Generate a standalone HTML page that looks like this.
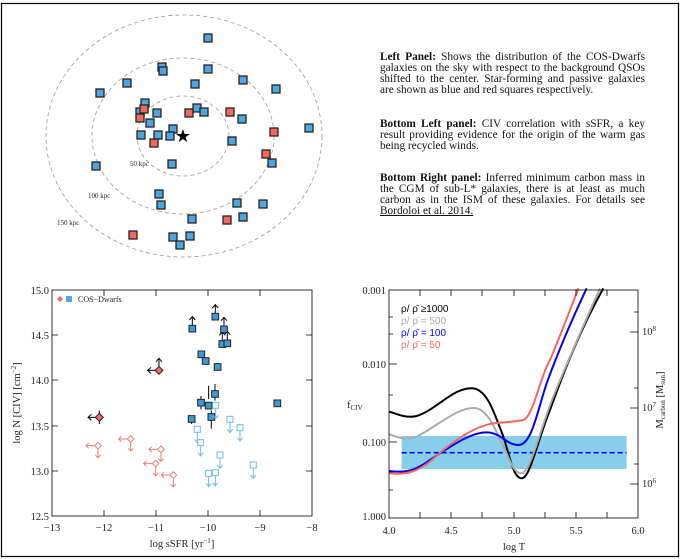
<!DOCTYPE html>
<html><head><meta charset="utf-8"><style>
body{margin:0;background:#fff;width:680px;height:559px;overflow:hidden;position:relative;font-family:"Liberation Serif",serif}
.t{position:absolute;left:380px;width:265px;font-size:11.3px;line-height:10.9px;color:#111}
.t div{text-align:justify;text-align-last:justify;white-space:nowrap}
.t div.l{text-align-last:left}
</style></head><body>
<svg width="680" height="559" style="position:absolute;left:0;top:0" font-family="Liberation Serif, serif">
<rect x="1.5" y="3.5" width="677" height="553" fill="none" stroke="#000" stroke-width="1.2"/>
<g fill="none" stroke="#999" stroke-width="0.8" stroke-dasharray="4,3">
<ellipse cx="183" cy="136" rx="46" ry="40"/>
<ellipse cx="183" cy="136" rx="91" ry="78"/>
<ellipse cx="184" cy="136" rx="138" ry="121"/>
</g>
<g font-size="7" fill="#222"><text x="130" y="166">50 kpc</text><text x="88" y="198">100 kpc</text><text x="57" y="225">150 kpc</text></g>
<g stroke="#222" stroke-width="1.3" fill="#4da6e0">
<rect x="204" y="34" width="8" height="8"/><rect x="158" y="63" width="8" height="8"/><rect x="159" y="67" width="8" height="8"/><rect x="204" y="65" width="8" height="8"/><rect x="123" y="79" width="8" height="8"/><rect x="191" y="80" width="8" height="8"/><rect x="239" y="76" width="8" height="8"/><rect x="272" y="85" width="8" height="8"/><rect x="96" y="89" width="8" height="8"/><rect x="141" y="99" width="8" height="8"/><rect x="136" y="108" width="8" height="8"/><rect x="153" y="109" width="8" height="8"/><rect x="193" y="104" width="8" height="8"/><rect x="200" y="108" width="8" height="8"/><rect x="238" y="115" width="8" height="8"/><rect x="146" y="119" width="8" height="8"/><rect x="169" y="125" width="8" height="8"/><rect x="166" y="132" width="8" height="8"/><rect x="137" y="131" width="8" height="8"/><rect x="154" y="131" width="8" height="8"/><rect x="305" y="124" width="8" height="8"/><rect x="228" y="137" width="8" height="8"/><rect x="168" y="160" width="8" height="8"/><rect x="92" y="162" width="8" height="8"/><rect x="268" y="159" width="8" height="8"/><rect x="155" y="190" width="8" height="8"/><rect x="157" y="201" width="8" height="8"/><rect x="233" y="199" width="8" height="8"/><rect x="259" y="200" width="8" height="8"/><rect x="188" y="215" width="8" height="8"/><rect x="239" y="213" width="8" height="8"/><rect x="169" y="233" width="8" height="8"/><rect x="186" y="232" width="8" height="8"/><rect x="176" y="241" width="8" height="8"/>
</g>
<g stroke="#222" stroke-width="1.3" fill="#f4665e">
<rect x="140" y="105" width="8" height="8"/><rect x="136" y="114" width="8" height="8"/><rect x="185" y="109" width="8" height="8"/><rect x="226" y="108" width="8" height="8"/><rect x="150" y="139" width="8" height="8"/><rect x="270" y="128" width="8" height="8"/><rect x="262" y="150" width="8" height="8"/><rect x="223" y="216" width="8" height="8"/><rect x="129" y="231" width="8" height="8"/>
</g>
<text x="183" y="142" font-size="18" text-anchor="middle" fill="#000">★</text>

<g stroke="#000" stroke-width="0.8" fill="none">
<rect x="52" y="290" width="260" height="226"/>
<path d="M104,516v-6M156,516v-6M208,516v-6M260,516v-6M104,290v6M156,290v6M208,290v6M260,290v6M52,335h6M52,380h6M52,426h6M52,471h6M312,335h-6M312,380h-6M312,426h-6M312,471h-6"/>
</g>
<g font-size="10.5" fill="#222" text-anchor="middle">
<text x="52" y="531">−13</text><text x="104" y="531">−12</text><text x="156" y="531">−11</text><text x="208" y="531">−10</text><text x="260" y="531">−9</text><text x="312" y="531">−8</text>
<text x="182" y="547">log sSFR [yr<tspan dy="-4" font-size="7">−1</tspan><tspan dy="4">]</tspan></text>
</g>
<g font-size="10.5" fill="#222" text-anchor="end">
<text x="49" y="294">15.0</text><text x="49" y="339">14.5</text><text x="49" y="384">14.0</text><text x="49" y="430">13.5</text><text x="49" y="475">13.0</text><text x="49" y="520">12.5</text>
</g>
<text transform="translate(20,403) rotate(-90)" font-size="10.5" fill="#222" text-anchor="middle">log N [CIV] [cm<tspan dy="-4" font-size="7">−2</tspan><tspan dy="4">]</tspan></text>
<path d="M60,296l3,3l-3,3l-3,-3z" fill="#f4665e"/><rect x="66" y="296" width="6" height="6" fill="#4da6e0"/>
<text x="78" y="302" font-size="8" fill="#222">COS−Dwarfs</text>
<g transform="translate(0,270) scale(0.3333)">
<g stroke="#000" stroke-width="3" fill="none">
<path d="M577,176v-36M568,150l9,-10l9,10M646,140v-36M637,114l9,-10l9,10M672,178v-36M663,152l9,-10l9,10M667,222v-36M658,196l9,-10l9,10M682,220v-36M673,194l9,-10l9,10"/>
<path d="M653,281v20M645,362v-20M645,382v10M603,378v40M626,387v-40M634,421v55M575,437v25M832,390v20M617,263v20"/>
<path d="M298,442h-34M274,433l-10,9l10,9M298,422v40M477,301h-34M453,292l-10,9l10,9M477,301v-36M468,275l9,-10l9,10"/>
</g>
<g stroke="#222" stroke-width="3" fill="#3f9ad6">
<rect x="567" y="166" width="20" height="20"/><rect x="636" y="130" width="20" height="20"/><rect x="662" y="168" width="20" height="20"/><rect x="657" y="212" width="20" height="20"/><rect x="672" y="210" width="20" height="20"/><rect x="594" y="243" width="20" height="20"/><rect x="607" y="263" width="20" height="20"/><rect x="643" y="281" width="20" height="20"/><rect x="635" y="362" width="20" height="20"/><rect x="593" y="388" width="20" height="20"/><rect x="616" y="397" width="20" height="20"/><rect x="624" y="431" width="20" height="20"/><rect x="565" y="437" width="20" height="20"/><rect x="822" y="390" width="20" height="20"/>
</g>
<g stroke="#222" stroke-width="3" fill="#f4665e"><path d="M298,430l12,12l-12,12l-12,-12z"/><path d="M477,289l12,12l-12,12l-12,-12z"/></g>
<g stroke="#6bbce8" stroke-width="3" fill="none">
<path d="M647,416v30M639,436l8,10l8,-10M592,488v30M584,508l8,10l8,-10M602,528v30M594,548l8,10l8,-10M690,458v30M682,478l8,10l8,-10M720,483v30M712,503l8,10l8,-10M660,565v30M652,585l8,10l8,-10M626,620v30M618,640l8,10l8,-10M646,618v30M638,638l8,10l8,-10M760,595v30M752,615l8,10l8,-10"/>
<rect x="638" y="397" width="18" height="18" fill="#fff"/><rect x="583" y="469" width="18" height="18" fill="#fff"/><rect x="593" y="509" width="18" height="18" fill="#fff"/><rect x="681" y="439" width="18" height="18" fill="#fff"/><rect x="711" y="464" width="18" height="18" fill="#fff"/><rect x="651" y="546" width="18" height="18" fill="#fff"/><rect x="617" y="601" width="18" height="18" fill="#fff"/><rect x="637" y="599" width="18" height="18" fill="#fff"/><rect x="751" y="576" width="18" height="18" fill="#fff"/>
</g>
<g stroke="#f47b74" stroke-width="3" fill="none">
<path d="M294,527h-36M266,519l-8,8l8,8M294,527v36M286,555l8,8l8,-8M392,507h-36M364,499l-8,8l8,8M392,507v36M384,535l8,8l8,-8M483,538h-36M455,530l-8,8l8,8M483,538v36M475,566l8,8l8,-8M467,581h-36M439,573l-8,8l8,8M467,581v36M459,609l8,8l8,-8M520,615h-36M492,607l-8,8l8,8M520,615v36M512,643l8,8l8,-8"/>
<g fill="#fff"><path d="M294,517l10,10l-10,10l-10,-10z"/><path d="M392,497l10,10l-10,10l-10,-10z"/><path d="M483,528l10,10l-10,10l-10,-10z"/><path d="M467,571l10,10l-10,10l-10,-10z"/><path d="M520,605l10,10l-10,10l-10,-10z"/></g>
</g>
</g>

<g transform="translate(340,270) scale(0.3333)">
<rect x="185" y="498" width="675" height="99" fill="#87ceeb"/>
<path d="M185,548H860" stroke="#0000ff" stroke-width="5" stroke-dasharray="15,9"/>
<g fill="none" stroke-width="6" stroke-linejoin="round">
<path stroke="#000" d="M148,425 C180,435 200,445 230,438 C290,420 340,350 400,355 C440,360 460,420 490,500 C510,560 520,625 545,625 C570,625 590,520 630,420 C670,310 720,180 790,55"/>
<path stroke="#aaa" d="M148,493 C180,505 200,510 230,500 C290,470 360,405 410,415 C450,425 470,490 500,550 C520,600 530,610 545,610 C570,610 600,480 640,380 C680,280 720,190 780,55"/>
<path stroke="#0000ff" d="M148,603 C200,610 230,600 270,570 C330,530 400,480 450,488 C490,495 500,525 535,525 C575,525 590,430 620,340 C660,230 700,140 740,55"/>
<path stroke="#f4665e" d="M148,610 C200,615 230,605 270,575 C330,520 400,470 460,460 C510,455 530,455 550,450 C580,440 600,320 630,270 C660,200 690,120 715,55"/>
</g>
</g>
<g stroke="#000" stroke-width="0.8" fill="none">
<rect x="389" y="290" width="249" height="228"/>
<path d="M420,518v-6M451,518v-6M482,518v-6M514,518v-6M545,518v-6M576,518v-6M607,518v-6M420,290v6M451,290v6M482,290v6M514,290v6M545,290v6M576,290v6M607,290v6M389,364h8M389,442h8M389,334h4M389,317h4M389,412h4M389,395h4M389,490h4M389,472h4M638,332h-8M638,408h-8M638,484h-8M638,312h-4M638,388h-4M638,464h-4"/>
</g>
<g font-size="10.5" fill="#222" text-anchor="middle">
<text x="389" y="534">4.0</text><text x="451" y="534">4.5</text><text x="514" y="534">5.0</text><text x="576" y="534">5.5</text><text x="638" y="534">6.0</text>
<text x="514" y="550">log T</text>
</g>
<g font-size="10.5" fill="#222" text-anchor="end">
<text x="386" y="294">0.001</text><text x="386" y="368">0.010</text><text x="386" y="446">0.100</text><text x="386" y="520">1.000</text>
</g>
<text x="347" y="408" font-size="10.5" fill="#222">f<tspan font-size="7" dy="2">CIV</tspan></text>
<g font-size="10.5" fill="#222"><text x="642" y="335">10<tspan font-size="7" dy="-4">8</tspan></text><text x="642" y="411">10<tspan font-size="7" dy="-4">7</tspan></text><text x="642" y="487">10<tspan font-size="7" dy="-4">6</tspan></text></g>
<text transform="translate(663,400) rotate(-90)" font-size="10.5" fill="#222" text-anchor="middle">M<tspan font-size="7" dy="2">carbon</tspan><tspan dy="-2"> [M</tspan><tspan font-size="7" dy="2">sun</tspan><tspan dy="-2">]</tspan></text>
<g font-family="Liberation Sans, sans-serif" font-size="10">
<text x="401" y="312" fill="#000">ρ/ ρ̄ ≥1000</text>
<text x="401" y="324" fill="#aaa">ρ/ ρ̄ = 500</text>
<text x="401" y="336" fill="#0000ff">ρ/ ρ̄ = 100</text>
<text x="401" y="348" fill="#f4665e">ρ/ ρ̄ = 50</text>
</g>
</svg>
<div class="t" style="top:52px">
<div><b>Left Panel:</b> Shows the distribution of the COS-Dwarfs</div>
<div>galaxies on the sky with respect to the background QSOs</div>
<div>shifted to the center. Star-forming and passive galaxies</div>
<div class="l">are shown as blue and red squares respectively.</div>
</div>
<div class="t" style="top:119px">
<div><b>Bottom Left panel:</b> CIV correlation with sSFR, a key</div>
<div>result providing evidence for the origin of the warm gas</div>
<div class="l">being recycled winds.</div>
</div>
<div class="t" style="top:173px">
<div><b>Bottom Right panel:</b> Inferred minimum carbon mass in</div>
<div>the CGM of sub-L* galaxies, there is at least as much</div>
<div>carbon as in the ISM of these galaxies. For details see</div>
<div class="l"><u>Bordoloi et al. 2014.</u></div>
</div>
</body></html>
